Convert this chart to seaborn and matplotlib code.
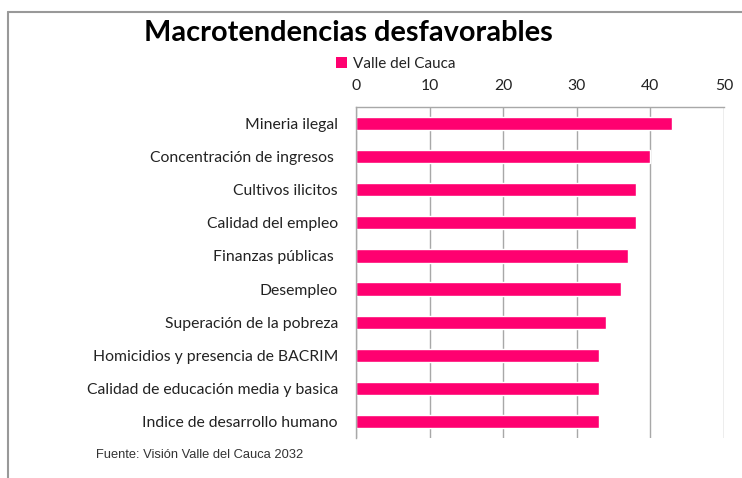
import matplotlib
matplotlib.use("Agg")
import matplotlib.pyplot as plt
import seaborn as sns
import pandas as pd
from matplotlib.patches import Patch
from matplotlib.lines import Line2D

categories = [
    "Mineria ilegal",
    "Concentración de ingresos ",
    "Cultivos ilicitos",
    "Calidad del empleo",
    "Finanzas públicas ",
    "Desempleo",
    "Superación de la pobreza",
    "Homicidios y presencia de BACRIM",
    "Calidad de educación media y basica",
    "Indice de desarrollo humano",
]
values = [43, 40, 38, 38, 37, 36, 34, 33, 33, 33]
series_name = "Valle del Cauca"
xticks = [0, 10, 20, 30, 40, 50]

df = pd.DataFrame({"cat": categories, "val": values})

sns.set_theme(style="white")
plt.rcParams["font.family"] = ["Lato", "DejaVu Sans"]

W, H = 742, 478
fig = plt.figure(figsize=(W / 100, H / 100), dpi=100)
ax = fig.add_axes([356 / W, 1 - 438 / H, (724 - 356) / W, (438 - 107) / H])

bar_color = "#FF0070"
sns.barplot(data=df, x="val", y="cat", orient="h", color=bar_color,
            width=0.4, ax=ax, saturation=1)

ax.set_xlim(0, 50)
ax.set_xticks(xticks)
ax.xaxis.tick_top()
ax.tick_params(axis="x", length=0, pad=10, labelsize=11.3, labelcolor="#222222")
ax.tick_params(axis="y", length=0, pad=13, labelsize=11.3, labelcolor="#222222")
ax.set_xlabel("")
ax.set_ylabel("")
ax.grid(axis="x", color="#A8A8A8", linewidth=1)
ax.set_axisbelow(True)
for s in ["bottom", "right"]:
    ax.spines[s].set_visible(False)
for s in ["top", "left"]:
    ax.spines[s].set_visible(True)
    ax.spines[s].set_color("#A8A8A8")
    ax.spines[s].set_linewidth(1)

fig.text(348 / W, 1 - 33 / H, "Macrotendencias desfavorables", ha="center",
         va="center", fontsize=20.8, fontweight="bold", color="black")

ax.legend(handles=[Patch(facecolor=bar_color, edgecolor="none", label=series_name)],
          loc="center left", bbox_to_anchor=(336 / W, 1 - 64 / H),
          bbox_transform=fig.transFigure, frameon=False, handlelength=0.7,
          handleheight=0.7, handletextpad=0.4, borderpad=0, borderaxespad=0,
          fontsize=11, labelcolor="#222222")

fig.text(96 / W, 1 - 455 / H, "Fuente: Visión Valle del Cauca 2032",
         ha="left", va="center", fontsize=9.3, color="#333333",
         family=["Liberation Sans Narrow", "Liberation Sans", "DejaVu Sans"])

fig.add_artist(Line2D([8 / W, 8 / W], [0, 1 - 12 / H], transform=fig.transFigure,
                      color="#999999", linewidth=1.5))
fig.add_artist(Line2D([8 / W, 1], [1 - 12 / H, 1 - 12 / H], transform=fig.transFigure,
                      color="#999999", linewidth=1.5))

fig.savefig("out.png", dpi=100)
